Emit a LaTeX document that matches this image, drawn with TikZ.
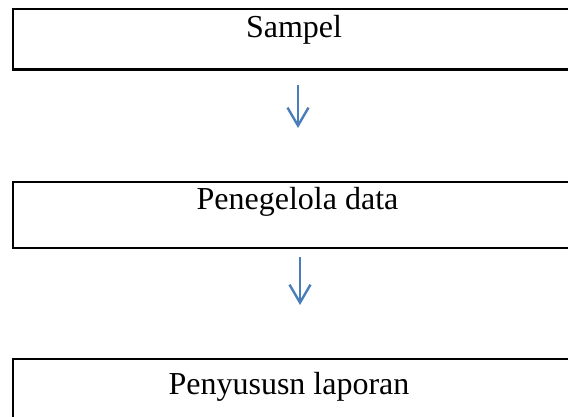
\documentclass[tikz,border=0pt]{standalone}
\usepackage{fontspec}
\setmainfont{Liberation Serif}
\usetikzlibrary{arrows.meta}
\definecolor{arrowblue}{RGB}{74,126,187}
\begin{document}
\begin{tikzpicture}[x=1pt,y=-1pt,
  box/.style={draw=black,line width=2.8pt,inner sep=0pt,minimum width=567pt},
  label/.style={anchor=base,inner sep=0pt,font=\fontsize{32}{38}\selectfont},
  flow/.style={draw=arrowblue,line width=2.4pt,-{Straight Barb[length=18pt,width=21pt,line width=2.4pt]}}]
\useasboundingbox (0,0) rectangle (568,417);
\begin{scope}
\clip (0,0) rectangle (568,417);
\node[box,minimum height=60.5pt] (b1) at (296.5,39.25) {};
\node[box,minimum height=66pt] (b2) at (296.5,215) {};
\node[box,minimum height=81pt] (b3) at (296.5,399.5) {};
\end{scope}
\node[label] (t1) at (294,38) {Sampel};
\node[label] (t2) at (297.5,210) {Penegelola data};
\node[label] (t3) at (289,394) {Penyususn laporan};
\coordinate (a1s) at (298,85);
\coordinate (a1e) at (298,128);
\coordinate (a2s) at (300,257);
\coordinate (a2e) at (300,305);
\draw[flow] (a1s) -- (a1e);
\draw[flow] (a2s) -- (a2e);
\end{tikzpicture}
\end{document}
